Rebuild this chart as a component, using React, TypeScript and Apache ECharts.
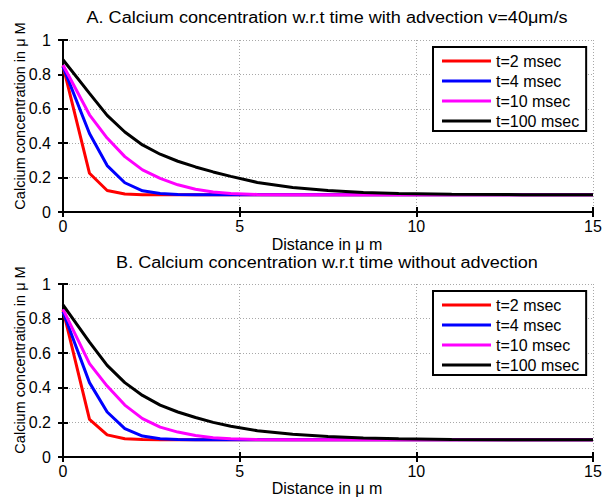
import React, { useEffect, useRef } from "react";
import * as echarts from "echarts";

const FONT = "Liberation Sans, Arial, sans-serif";

const xs = [0, 0.75, 1.25, 1.75, 2.25, 2.75, 3.25, 3.75, 4.25, 4.75, 5.5, 6.5, 7.5, 8.5, 9.5, 11, 13, 15];

const seriesNames = ["t=2 msec", "t=4 msec", "t=10 msec", "t=100 msec"];
const seriesColors = ["#ff0000", "#0000ff", "#ff00ff", "#000000"];

// Panel A: with advection
const aRed = [0.85, 0.225, 0.125, 0.105, 0.101, 0.1, 0.1, 0.1, 0.1, 0.1, 0.1, 0.1, 0.1, 0.1, 0.1, 0.1, 0.1, 0.1];
const aBlue = [0.845, 0.456, 0.27, 0.17, 0.123, 0.107, 0.102, 0.1, 0.1, 0.1, 0.1, 0.1, 0.1, 0.1, 0.1, 0.1, 0.1, 0.1];
const aMagenta = [0.855, 0.565, 0.43, 0.322, 0.245, 0.196, 0.158, 0.132, 0.116, 0.107, 0.102, 0.1, 0.1, 0.1, 0.1, 0.1, 0.1, 0.1];
const aBlack = [0.885, 0.69, 0.562, 0.465, 0.39, 0.336, 0.295, 0.262, 0.233, 0.207, 0.172, 0.143, 0.125, 0.114, 0.108, 0.103, 0.101, 0.1];

// Panel B: without advection
const bRed = [0.85, 0.218, 0.128, 0.106, 0.101, 0.1, 0.1, 0.1, 0.1, 0.1, 0.1, 0.1, 0.1, 0.1, 0.1, 0.1, 0.1, 0.1];
const bBlue = [0.84, 0.43, 0.26, 0.164, 0.121, 0.106, 0.101, 0.1, 0.1, 0.1, 0.1, 0.1, 0.1, 0.1, 0.1, 0.1, 0.1, 0.1];
const bMagenta = [0.855, 0.54, 0.41, 0.3, 0.222, 0.173, 0.144, 0.124, 0.111, 0.105, 0.101, 0.1, 0.1, 0.1, 0.1, 0.1, 0.1, 0.1];
const bBlack = [0.88, 0.664, 0.53, 0.43, 0.356, 0.3, 0.26, 0.228, 0.2, 0.178, 0.152, 0.131, 0.118, 0.11, 0.105, 0.101, 0.1, 0.1];

const titleA = "A. Calcium concentration w.r.t time with advection v=40\u03bcm/s";
const titleB = "B. Calcium concentration w.r.t time without advection";
const xName = "Distance in \u03bc m";
const yName = "Calcium concentration in \u03bc M";

const panels = [
  { data: [aRed, aBlue, aMagenta, aBlack], top: 40, height: 172 },
  { data: [bRed, bBlue, bMagenta, bBlack], top: 284, height: 173 },
];

const GRID_LEFT = 63;
const GRID_WIDTH = 530;

export default function App() {
  const ref = useRef<HTMLDivElement>(null);

  useEffect(() => {
    document.body.style.margin = "0";
    if (!ref.current) return;
    const chart = echarts.init(ref.current, undefined, { renderer: "svg" });

    const grids: any[] = [];
    const xAxes: any[] = [];
    const yAxes: any[] = [];
    const series: any[] = [];
    const legends: any[] = [];
    const graphics: any[] = [];

    const tick = { show: true, inside: true, length: 5, lineStyle: { color: "#000", width: 2 } };
    const line = { show: true, lineStyle: { color: "#000", width: 2 } };
    const split = { show: true, lineStyle: { color: "#a8a8a8", width: 1, type: [1, 2] } };

    panels.forEach((p, i) => {
      grids.push({ left: GRID_LEFT, top: p.top, width: GRID_WIDTH, height: p.height, containLabel: false });
      xAxes.push({
        gridIndex: i, type: "value", min: 0, max: 15, interval: 5, position: "bottom",
        axisLine: line, axisTick: tick, splitLine: split,
        axisLabel: { color: "#000", fontSize: 16, fontFamily: FONT, margin: 6 },
      });
      xAxes.push({
        gridIndex: i, type: "value", min: 0, max: 15, interval: 5, position: "top",
        axisLine: line, axisTick: tick, splitLine: { show: false }, axisLabel: { show: false },
      });
      yAxes.push({
        gridIndex: i, type: "value", min: 0, max: 1, interval: 0.2, position: "left",
        axisLine: line, axisTick: tick, splitLine: split,
        axisLabel: { color: "#000", fontSize: 16, fontFamily: FONT, margin: 12 },
      });
      yAxes.push({
        gridIndex: i, type: "value", min: 0, max: 1, interval: 0.2, position: "right",
        axisLine: line, axisTick: tick, splitLine: { show: false }, axisLabel: { show: false },
      });
      p.data.forEach((vals, k) => {
        series.push({
          name: seriesNames[k], type: "line", xAxisIndex: 2 * i, yAxisIndex: 2 * i,
          data: xs.map((x, j) => [x, vals[j]]),
          showSymbol: false, symbol: "none",
          lineStyle: { color: seriesColors[k], width: 3 },
          itemStyle: { color: seriesColors[k] },
          z: 3 + k,
        });
      });
      legends.push({
        data: seriesNames, orient: "vertical", left: 433, top: p.top + 7,
        icon: "rect", itemWidth: 49, itemHeight: 3, itemGap: 0,
        padding: [4, 7, 0, 9], borderColor: "#000", borderWidth: 2, backgroundColor: "#fff",
        textStyle: { color: "#000", fontSize: 16, fontFamily: FONT, lineHeight: 20 },
        selectedMode: false, z: 10,
      });
      const off = i === 0 ? 0 : 245;
      graphics.push({
        type: "text", x: 327, y: 18 + off, scaleX: 1.13, scaleY: 1, originX: 0, originY: 0,
        style: { text: i === 0 ? titleA : titleB, fill: "#000", font: `16px ${FONT}`, textAlign: "center", textVerticalAlign: "middle" },
      });
      graphics.push({
        type: "text", x: 327, y: i === 0 ? 244.5 : 488,
        style: { text: xName, fill: "#000", font: `16px ${FONT}`, textAlign: "center", textVerticalAlign: "middle" },
      });
      graphics.push({
        type: "text", x: 20, y: 116 + (i === 0 ? 0 : 244), rotation: Math.PI / 2,
        style: { text: yName, fill: "#000", font: `14.5px ${FONT}`, textAlign: "center", textVerticalAlign: "middle" },
      });
    });

    chart.setOption({
      animation: false,
      backgroundColor: "#fff",
      grid: grids,
      xAxis: xAxes,
      yAxis: yAxes,
      series,
      legend: legends,
      graphic: graphics,
    });

    return () => chart.dispose();
  }, []);

  return <div ref={ref} style={{ width: 605, height: 497 }} />;
}
